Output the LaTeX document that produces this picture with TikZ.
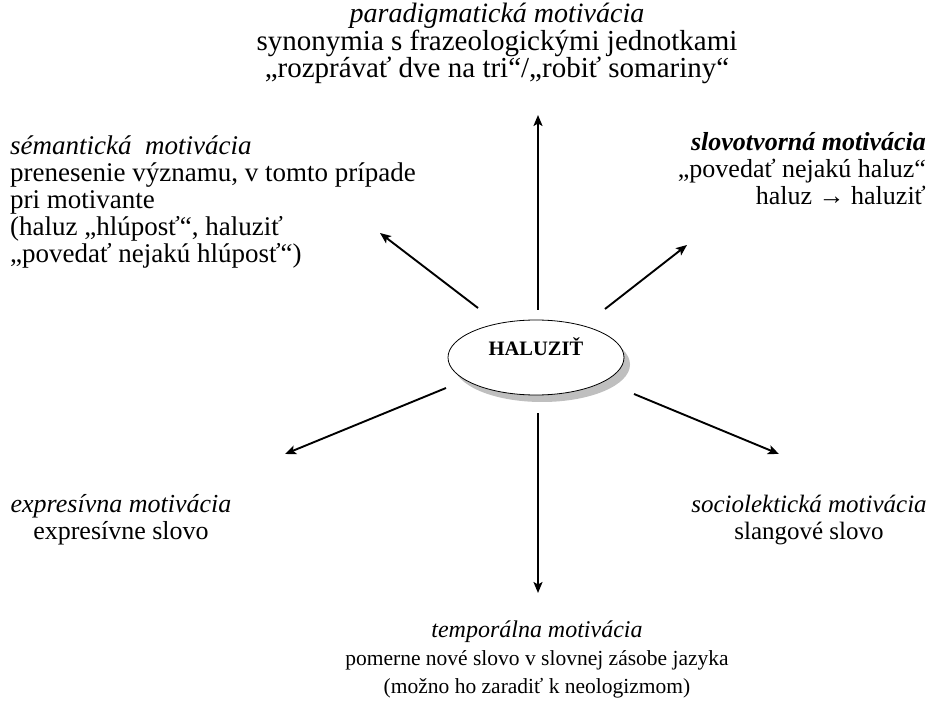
\documentclass[tikz,border=0pt]{standalone}
\usepackage{fontspec}
\setmainfont{Liberation Serif}
\usetikzlibrary{arrows.meta,shapes.geometric,shadows}

\begin{document}
\begin{tikzpicture}[x=1pt,y=-1pt,
  arr/.style={line width=1.9pt,-{Stealth[length=11pt,width=9pt,inset=2.5pt]}},
  blk/.style={inner sep=0pt,font=\fontsize{26}{27}\selectfont},
  hubnode/.style={ellipse,draw,line width=0.8pt,fill=white,
    minimum width=176pt,minimum height=75pt,inner sep=0pt,
    font=\fontsize{20.5}{24}\selectfont\bfseries,
    text height=14pt,text depth=18pt,
    drop shadow={shadow xshift=6pt,shadow yshift=-7pt,fill=black!25,opacity=1}}]
\useasboundingbox (0,0) rectangle (937,708);

% central word
\node[hubnode] (hub) at (536,357.5) {HALUZIŤ};

% the six kinds of motivation
\node[blk,align=center,anchor=north,font=\fontsize{29}{27.5}\selectfont] (para) at (497,3)
  {{\fontsize{28}{27.5}\selectfont\textit{paradigmatická motivácia}}\\
   synonymia s frazeologickými jednotkami\\
   „rozprávať dve na tri“/„robiť somariny“};
\node[blk,align=left,anchor=north west,font=\fontsize{27}{27}\selectfont] (sem) at (10,136)
  {\textit{sémantická\ \ motivácia}\\
   prenesenie významu, v tomto prípade\\
   pri motivante\\
   (haluz „hlúposť“, haluziť\\
   „povedať nejakú hlúposť“)};
\node[blk,align=right,anchor=north east] (slov) at (926,132)
  {\textbf{\textit{slovotvorná motivácia}}\\
   „povedať nejakú haluz“\\
   haluz → haluziť};
\node[blk,align=center,anchor=north] (expr) at (121,494)
  {\textit{expresívna motivácia}\\
   expresívne slovo};
\node[blk,align=center,anchor=north,font=\fontsize{25}{27}\selectfont] (soc) at (809,495)
  {\textit{sociolektická motivácia}\\
   slangové slovo};
\node[blk,align=center,anchor=north,font=\fontsize{21.5}{28}\selectfont] (temp) at (537,621)
  {{\fontsize{24}{28}\selectfont\textit{temporálna motivácia}}\\
   pomerne nové slovo v slovnej zásobe jazyka\\
   (možno ho zaradiť k neologizmom)};

% arrow ends around the ellipse
\coordinate (upS) at (538,310);   \coordinate (upE) at (538,115);
\coordinate (dnS) at (538,413);   \coordinate (dnE) at (538,593);
\coordinate (ulS) at (478,308);   \coordinate (ulE) at (380,233);
\coordinate (urS) at (605,309);   \coordinate (urE) at (687,245);
\coordinate (llS) at (446,388);   \coordinate (llE) at (285,454);
\coordinate (lrS) at (634,394);   \coordinate (lrE) at (779,454);

\draw[arr] (upS) -- (upE);
\draw[arr] (dnS) -- (dnE);
\draw[arr] (ulS) -- (ulE);
\draw[arr] (urS) -- (urE);
\draw[arr] (llS) -- (llE);
\draw[arr] (lrS) -- (lrE);
\end{tikzpicture}
\end{document}
